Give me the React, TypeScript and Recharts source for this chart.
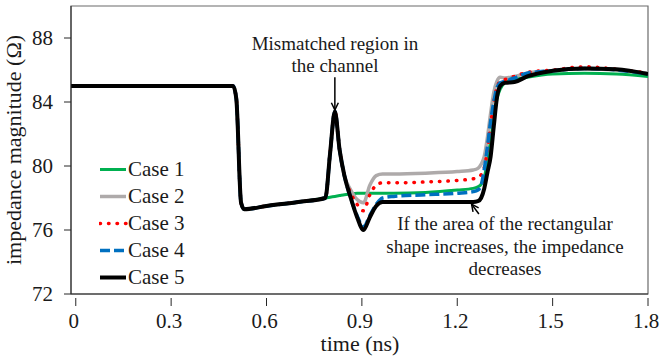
import React from 'react'
import {
  LineChart,
  Line,
  XAxis,
  YAxis,
  Legend,
  ReferenceArea,
  ReferenceLine,
} from 'recharts'

// time samples (ns), shared by every case
const TIME = [
  -0.015, 0.495, 0.505, 0.52, 0.53, 0.6, 0.7, 0.785, 0.8, 0.815, 0.83, 0.845, 0.865, 0.885, 0.905,
  0.925, 0.945, 0.965, 1.0, 1.1, 1.2, 1.25, 1.265, 1.275, 1.285, 1.295, 1.305, 1.315, 1.325, 1.335,
  1.35, 1.38, 1.42, 1.5, 1.6, 1.7, 1.8,
]

// impedance magnitude (ohm)
const CASE_1 = [
  85, 85, 84.2, 77.7, 77.3, 77.5, 77.75, 78.0, 78.05, 78.1, 78.15, 78.2, 78.25, 78.3, 78.3, 78.3,
  78.3, 78.3, 78.3, 78.35, 78.5, 78.6, 78.7, 78.85, 79.3, 80.3, 81.6, 83.0, 84.2, 84.8, 85.2,
  85.4, 85.55, 85.75, 85.8, 85.75, 85.6,
]
const CASE_2 = [
  85, 85, 84.2, 77.7, 77.3, 77.5, 77.75, 78.0, 80.8, 83.4, 81.0, 79.4, 78.5, 77.9, 77.7, 78.8,
  79.4, 79.5, 79.5, 79.55, 79.65, 79.75, 79.85, 80.1, 80.6, 81.8, 83.3, 84.6, 85.3, 85.55, 85.5,
  85.6, 85.8, 85.95, 86.1, 86.0, 85.8,
]
const CASE_3 = [
  85, 85, 84.2, 77.7, 77.3, 77.5, 77.75, 78.0, 80.8, 83.4, 81.0, 79.4, 78.3, 77.6, 77.2, 78.2,
  78.8, 78.95, 78.95, 79.0, 79.1, 79.2, 79.3, 79.45, 79.9, 81.0, 82.6, 84.0, 84.9, 85.3, 85.4,
  85.6, 85.85, 86.0, 86.2, 86.05, 85.8,
]
const CASE_4 = [
  85, 85, 84.2, 77.7, 77.3, 77.5, 77.75, 78.0, 80.8, 83.4, 81.0, 79.4, 78.0, 76.9, 76.2, 76.9,
  77.6, 78.0, 78.1, 78.2, 78.3, 78.4, 78.5, 78.8, 79.8, 81.2, 82.8, 84.0, 84.9, 85.2, 85.3,
  85.5, 85.8, 85.95, 86.1, 86.0, 85.75,
]
const CASE_5 = [
  85, 85, 84.2, 77.7, 77.3, 77.5, 77.75, 78.0, 80.8, 83.4, 81.0, 79.4, 78.0, 76.8, 76.0, 76.8,
  77.5, 77.75, 77.75, 77.75, 77.75, 77.75, 77.8, 78.0, 78.6, 79.6, 80.6, 82.5, 84.3, 85.0, 85.2,
  85.25, 85.6, 85.95, 86.1, 86.05, 85.75,
]

const X_TICKS = [0, 0.3, 0.6, 0.9, 1.2, 1.5, 1.8]
const Y_TICKS = [72, 76, 80, 84, 88]

const SERIES = [
  { key: 'c1', name: 'Case 1', color: '#00b050', width: 3, dash: undefined as string | undefined, cap: 'butt' },
  { key: 'c2', name: 'Case 2', color: '#aeaaaa', width: 3.5, dash: undefined, cap: 'butt' },
  { key: 'c3', name: 'Case 3', color: '#ff0000', width: 3.5, dash: '0.5 8', cap: 'round' },
  { key: 'c4', name: 'Case 4', color: '#0070c0', width: 3.5, dash: '10 4', cap: 'butt' },
  { key: 'c5', name: 'Case 5', color: '#000000', width: 4, dash: undefined, cap: 'butt' },
]

const data = TIME.map((t, i) => ({
  t,
  c1: CASE_1[i],
  c2: CASE_2[i],
  c3: CASE_3[i],
  c4: CASE_4[i],
  c5: CASE_5[i],
}))

const TEXT = '#1a1a1a'
const AXIS = '#262626'

const XTick = (props: any) => {
  const { x, y, payload } = props
  return (
    <g>
      <line x1={x} x2={x} y1={y + 4} y2={y + 12} stroke={AXIS} />
      <text x={x - 2} y={y + 34} textAnchor="middle" fontSize={21} fill={TEXT}>
        {String(payload.value)}
      </text>
    </g>
  )
}

// line with an open arrow head at (x2, y2)
const Arrow = (props: any) => {
  const { x1, y1, x2, y2 } = props
  const a = Math.atan2(y2 - y1, x2 - x1)
  const len = 8
  const spread = 0.45
  const p1 = [x2 - len * Math.cos(a - spread), y2 - len * Math.sin(a - spread)]
  const p2 = [x2 - len * Math.cos(a + spread), y2 - len * Math.sin(a + spread)]
  return (
    <g>
      <line x1={x1} y1={y1} x2={x2} y2={y2} stroke="#000" strokeWidth={1.5} />
      <polyline
        points={`${p1[0]},${p1[1]} ${x2},${y2} ${p2[0]},${p2[1]}`}
        fill="none"
        stroke="#000"
        strokeWidth={1.5}
      />
    </g>
  )
}

const CaseLegend = () => (
  <div style={{ fontSize: 21, color: TEXT, lineHeight: '27px' }}>
    {SERIES.map((s) => (
      <div key={s.key} style={{ display: 'flex', alignItems: 'center', height: 27 }}>
        <svg width={29} height={27} style={{ display: 'block' }}>
          <line
            x1={1}
            x2={27}
            y1={13.5}
            y2={13.5}
            stroke={s.color}
            strokeWidth={s.width}
            strokeDasharray={s.dash}
            strokeLinecap={s.cap as any}
          />
        </svg>
        <span style={{ whiteSpace: 'nowrap' }}>{s.name}</span>
      </div>
    ))}
  </div>
)

export default function App() {
  return (
    <div
      style={{
        position: 'absolute',
        left: 0,
        top: 0,
        width: 662,
        height: 360,
        background: '#fff',
        fontFamily: '"Liberation Serif", "Times New Roman", serif',
      }}
    >
      <LineChart width={662} height={360} data={data} margin={{ top: 6, right: 14, bottom: 36, left: 11 }}>
        <XAxis
          type="number"
          dataKey="t"
          domain={[-0.015, 1.8]}
          ticks={X_TICKS}
          height={30}
          axisLine={{ stroke: AXIS }}
          tickLine={false}
          tickSize={0}
          tickMargin={0}
          tick={XTick}
          allowDataOverflow
        />
        <YAxis
          type="number"
          domain={[72, 90]}
          ticks={Y_TICKS}
          width={60}
          tickSize={7}
          tickMargin={11}
          tick={{ fill: TEXT, fontSize: 21 }}
          axisLine={{ stroke: AXIS }}
          tickLine={{ stroke: AXIS }}
          allowDataOverflow
        />
        <ReferenceArea x1={-0.015} x2={1.8} y1={72} y2={90} fill="none" stroke="#6b6b6b" strokeWidth={1.2} />
        {SERIES.map((s) => (
          <Line
            key={s.key}
            type="monotone"
            dataKey={s.key}
            name={s.name}
            stroke={s.color}
            strokeWidth={s.width}
            strokeDasharray={s.dash}
            strokeLinecap={s.cap as any}
            dot={false}
            activeDot={false}
            isAnimationActive={false}
          />
        ))}
        <ReferenceLine
          segment={[
            { x: 0.815, y: 85.55 },
            { x: 0.815, y: 83.5 },
          ]}
          shape={Arrow}
        />
        <ReferenceLine
          segment={[
            { x: 1.268, y: 77.0 },
            { x: 1.245, y: 77.62 },
          ]}
          shape={Arrow}
        />
        <Legend
          layout="vertical"
          align="center"
          verticalAlign="middle"
          content={CaseLegend}
          wrapperStyle={{ left: 99, top: 156, width: 120 }}
        />
      </LineChart>
      <svg
        width={662}
        height={360}
        style={{ position: 'absolute', left: 0, top: 0, pointerEvents: 'none' }}
        fill={TEXT}
      >
        <text x={21} y={150} fontSize={22} textAnchor="middle" transform="rotate(-90 21 150)">
          impedance magnitude (Ω)
        </text>
        <text x={360} y={351} fontSize={22} textAnchor="middle">
          time (ns)
        </text>
        <text x={335} y={50} fontSize={19} textAnchor="middle">
          Mismatched region in
        </text>
        <text x={335} y={72} fontSize={19} textAnchor="middle">
          the channel
        </text>
        <text x={505} y={230} fontSize={19} textAnchor="middle">
          If the area of the rectangular
        </text>
        <text x={505} y={253} fontSize={19} textAnchor="middle">
          shape increases, the impedance
        </text>
        <text x={505} y={275} fontSize={19} textAnchor="middle">
          decreases
        </text>
      </svg>
    </div>
  )
}
